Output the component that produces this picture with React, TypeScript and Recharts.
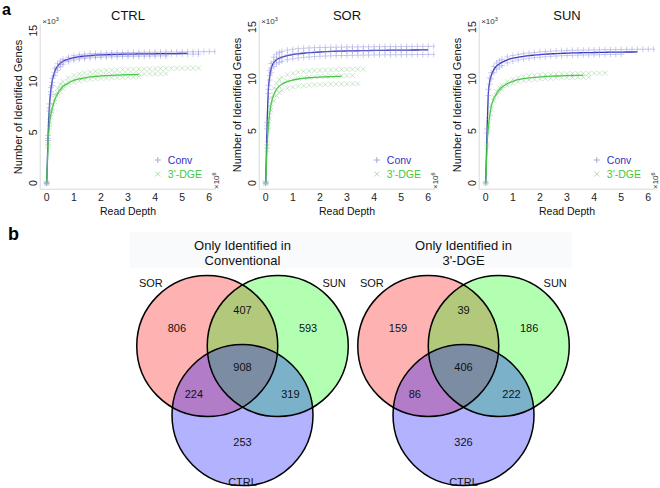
import React from "react";
import { ComposedChart, Line, Scatter, ScatterChart, XAxis, YAxis } from "recharts";

const FONT = "'Liberation Sans', Arial, Helvetica, sans-serif";

// ---------- panel a: rarefaction curves (genes x10^3 vs read depth x10^6)
const DEPTH = [0, 0.05, 0.1, 0.15, 0.2, 0.3, 0.4, 0.5, 0.6, 0.8, 1.0, 1.2, 1.4, 1.6, 1.8, 2.0, 2.2, 2.4, 2.6, 2.8, 3.0, 3.2, 3.4, 3.6, 3.8, 4.0, 4.2, 4.4, 4.6, 4.8, 5.0, 5.2, 5.4, 5.6, 5.8, 6.0, 6.2];
const X_TICKS = [0, 1, 2, 3, 4, 5, 6];
const Y_TICKS = [0, 5, 10, 15];
const PANEL_TITLES = ["CTRL", "SOR", "SUN"];
const SERIES_NAMES = ["Conv", "3'-DGE"];

// CTRL
const CTRL_CONV_LINE = [0, 4.5, 7.5, 9.1, 10.0, 11.0, 11.5, 11.8, 12.0, 12.2, 12.35, 12.45, 12.5, 12.55, 12.6, 12.62, 12.64, 12.66, 12.67, 12.68, 12.7, 12.7, 12.71, 12.72, 12.72, 12.73, 12.74, 12.74, 12.75, 12.75, 12.76, 12.76];
const CTRL_CONV_R1 = [0, 4.7, 7.8, 9.4, 10.3, 11.3, 11.75, 12.0, 12.2, 12.4, 12.55, 12.64, 12.69, 12.73, 12.76, 12.78, 12.8, 12.82, 12.83, 12.84, 12.85, 12.86, 12.87, 12.88, 12.88, 12.89, 12.9, 12.9, 12.91, 12.91, 12.92, 12.92, 12.93, 12.93, 12.94, 12.94, 12.95];
const CTRL_CONV_R2 = [0, 4.4, 7.4, 9.0, 9.9, 10.9, 11.4, 11.7, 11.9, 12.1, 12.25, 12.35, 12.42, 12.47, 12.51, 12.54, 12.56, 12.58, 12.6, 12.61, 12.62, 12.63, 12.64, 12.65, 12.66, 12.66, 12.67, 12.67, 12.68, 12.68, 12.69, 12.69, 12.7, 12.7];
const CTRL_CONV_R3 = [0, 4.2, 7.1, 8.7, 9.6, 10.6, 11.1, 11.45, 11.7, 11.95, 12.1, 12.2, 12.27, 12.32, 12.36, 12.39, 12.41, 12.43, 12.45, 12.46, 12.47, 12.48, 12.49, 12.5, 12.5, 12.51, 12.52, 12.52];
const CTRL_DGE_LINE = [0, 3.8, 5.8, 6.7, 7.3, 8.2, 8.8, 9.2, 9.5, 9.85, 10.1, 10.25, 10.35, 10.45, 10.5, 10.55, 10.58, 10.61, 10.63, 10.65, 10.67, 10.68, 10.7];
const CTRL_DGE_R1 = [0, 4.0, 6.1, 7.1, 7.8, 8.7, 9.3, 9.7, 10.0, 10.35, 10.6, 10.75, 10.85, 10.93, 11.0, 11.05, 11.09, 11.12, 11.15, 11.17, 11.19, 11.21, 11.23, 11.24, 11.25, 11.26, 11.27, 11.28, 11.29, 11.3, 11.3, 11.31, 11.31, 11.32];
const CTRL_DGE_R2 = [0, 3.8, 5.8, 6.8, 7.4, 8.3, 8.9, 9.3, 9.6, 9.95, 10.2, 10.35, 10.45, 10.52, 10.57, 10.61, 10.64, 10.66, 10.68, 10.7, 10.71, 10.72, 10.73, 10.74, 10.75, 10.76, 10.76, 10.77];
const CTRL_DGE_R3 = [0, 3.6, 5.5, 6.5, 7.1, 8.0, 8.6, 9.0, 9.3, 9.65, 9.9, 10.05, 10.15, 10.22, 10.27, 10.31, 10.34, 10.37, 10.39, 10.41, 10.43, 10.44, 10.45];

// SOR
const SOR_CONV_LINE = [0, 5.5, 9.0, 10.3, 11.0, 11.6, 11.85, 12.0, 12.1, 12.25, 12.35, 12.42, 12.48, 12.53, 12.57, 12.6, 12.63, 12.65, 12.67, 12.69, 12.7, 12.71, 12.72, 12.73, 12.74, 12.75, 12.76, 12.76, 12.77, 12.77, 12.78, 12.78, 12.79, 12.79, 12.8, 12.8];
const SOR_CONV_R1 = [0, 5.8, 9.4, 10.8, 11.5, 12.1, 12.4, 12.55, 12.65, 12.78, 12.86, 12.92, 12.96, 12.99, 13.01, 13.03, 13.04, 13.05, 13.06, 13.07, 13.08, 13.09, 13.09, 13.1, 13.1, 13.11, 13.11, 13.12, 13.12, 13.12, 13.13, 13.13, 13.13, 13.14, 13.14, 13.14, 13.15];
const SOR_CONV_R2 = [0, 5.2, 8.6, 9.9, 10.6, 11.2, 11.45, 11.6, 11.7, 11.85, 11.95, 12.02, 12.08, 12.12, 12.16, 12.19, 12.21, 12.23, 12.25, 12.26, 12.27, 12.28, 12.29, 12.3, 12.31, 12.32, 12.32, 12.33, 12.33, 12.34, 12.34, 12.35, 12.35, 12.36, 12.36, 12.37, 12.37];
const SOR_CONV_R3 = [0, 5.5, 9.0, 10.35, 11.05, 11.65, 11.9, 12.05, 12.15, 12.3, 12.4, 12.47, 12.52, 12.56, 12.6, 12.63, 12.65, 12.67, 12.69, 12.7, 12.71, 12.72, 12.73, 12.74, 12.75, 12.75, 12.76, 12.76, 12.77, 12.77, 12.78, 12.78];
const SOR_DGE_LINE = [0, 3.5, 5.5, 6.8, 7.6, 8.5, 9.0, 9.3, 9.5, 9.75, 9.9, 10.0, 10.07, 10.12, 10.16, 10.19, 10.21, 10.23, 10.25, 10.26];
const SOR_DGE_R1 = [0, 3.8, 6.0, 7.4, 8.2, 9.1, 9.6, 9.95, 10.15, 10.4, 10.55, 10.65, 10.72, 10.77, 10.81, 10.84, 10.86, 10.88, 10.9, 10.91, 10.92, 10.93, 10.94, 10.95];
const SOR_DGE_R2 = [0, 3.2, 5.0, 6.2, 7.0, 7.9, 8.4, 8.7, 8.9, 9.1, 9.22, 9.3, 9.36, 9.4, 9.43, 9.46, 9.48, 9.5, 9.51, 9.52, 9.53, 9.54, 9.55];
const SOR_DGE_R3 = [0, 3.5, 5.5, 6.8, 7.6, 8.5, 9.0, 9.3, 9.55, 9.8, 9.95, 10.05, 10.12, 10.17, 10.21, 10.24, 10.26, 10.28, 10.3, 10.31, 10.32, 10.33];

// SUN
const SUN_CONV_LINE = [0, 5.0, 8.7, 9.8, 10.3, 10.9, 11.25, 11.45, 11.6, 11.85, 12.0, 12.1, 12.18, 12.25, 12.3, 12.35, 12.39, 12.42, 12.45, 12.47, 12.49, 12.51, 12.52, 12.53, 12.54, 12.55, 12.56, 12.57, 12.58, 12.58, 12.59, 12.6, 12.6, 12.61];
const SUN_CONV_R1 = [0, 5.2, 9.0, 10.1, 10.6, 11.2, 11.55, 11.75, 11.9, 12.12, 12.26, 12.36, 12.44, 12.5, 12.55, 12.6, 12.64, 12.67, 12.7, 12.72, 12.74, 12.76, 12.77, 12.78, 12.79, 12.8, 12.81, 12.82, 12.83, 12.83, 12.84, 12.85, 12.85, 12.86, 12.86, 12.87, 12.87];
const SUN_CONV_R2 = [0, 4.8, 8.4, 9.5, 10.0, 10.6, 10.95, 11.15, 11.3, 11.55, 11.72, 11.83, 11.92, 11.99, 12.05, 12.1, 12.14, 12.18, 12.21, 12.24, 12.26, 12.28, 12.3, 12.31, 12.32, 12.33, 12.34, 12.35, 12.36, 12.37, 12.38];
const SUN_DGE_LINE = [0, 3.6, 5.4, 6.5, 7.3, 8.1, 8.6, 8.95, 9.2, 9.55, 9.78, 9.93, 10.03, 10.1, 10.16, 10.2, 10.24, 10.27, 10.29, 10.31, 10.33, 10.34, 10.35, 10.36];
const SUN_DGE_R1 = [0, 3.7, 5.6, 6.7, 7.5, 8.3, 8.8, 9.15, 9.4, 9.75, 9.98, 10.13, 10.23, 10.3, 10.36, 10.4, 10.43, 10.46, 10.48, 10.5, 10.51, 10.52, 10.53, 10.54, 10.55, 10.56, 10.56, 10.57];
const SUN_DGE_R2 = [0, 3.5, 5.2, 6.3, 7.1, 7.9, 8.4, 8.75, 9.0, 9.35, 9.58, 9.73, 9.83, 9.9, 9.96, 10.0, 10.04, 10.07, 10.1, 10.12, 10.14, 10.15, 10.16, 10.17, 10.18];

// ---------- panel b: Venn counts (SOR, SUN, CTRL, SOR&SUN, SOR&CTRL, SUN&CTRL, all)
const VENN_SETS = ["SOR", "SUN", "CTRL"];
const CONV_ONLY_COUNTS = [806, 593, 253, 407, 224, 319, 908];
const DGE_ONLY_COUNTS = [159, 186, 326, 39, 86, 222, 406];
const VENN_TITLES = [["Only Identified in", "Conventional"], ["Only Identified in", "3'-DGE"]];

const BLUE = "#3232c4";
const GREEN = "#3fc83f";

const toPoints = (ys: number[]) => ys.map((y, i) => ({ x: DEPTH[i], y }));

const PlusMark = (p: any) => (
  <path d={`M${p.cx - 3},${p.cy}h6M${p.cx},${p.cy - 3}v6`} stroke="#8a8ad8" strokeOpacity={0.55} strokeWidth={0.8} fill="none" />
);
const CrossMark = (p: any) => (
  <path d={`M${p.cx - 2.4},${p.cy - 2.4}l4.8,4.8M${p.cx - 2.4},${p.cy + 2.4}l4.8,-4.8`} stroke="#84c884" strokeOpacity={0.55} strokeWidth={0.8} fill="none" />
);

const XTick = ({ x, y, payload }: any) => (
  <text x={x} y={y + 8} textAnchor="middle" dominantBaseline="central" fontSize={10.5} fill="#222" fontFamily={FONT}>
    {payload.value}
  </text>
);
const YTick = ({ x, y, payload }: any) => (
  <text x={x - 7} y={y} transform={`rotate(-90 ${x - 7} ${y})`} textAnchor="middle" dominantBaseline="central" fontSize={10.5} fill="#222" fontFamily={FONT}>
    {payload.value}
  </text>
);

const PW = 222;
const PH = 222;
const P_LEFT = 40.2;
const P_RIGHT = 215.8;
const P_BOTTOM = 189.2;

function Rarefaction({ idx, left, plotTop, convLine, convReps, dgeLine, dgeReps }: any) {
  const cx = (P_LEFT + P_RIGHT) / 2;
  return (
    <div style={{ position: "absolute", left, top: 0, width: PW, height: PH }}>
      <ComposedChart width={PW} height={PH} margin={{ top: plotTop, right: PW - P_RIGHT, left: 0, bottom: 0 }}>
        <XAxis type="number" dataKey="x" domain={[-0.24, 6.24]} ticks={X_TICKS} allowDataOverflow
          height={PH - P_BOTTOM} tickLine={false} tickSize={0} tickMargin={0} tick={<XTick />} stroke="#d8d8d8" />
        <YAxis type="number" dataKey="y" domain={[-0.6, 15.6]} ticks={Y_TICKS} allowDataOverflow
          width={P_LEFT} tickLine={false} tickSize={0} tickMargin={0} tick={<YTick />} stroke="#d8d8d8" />
        {convReps.map((r: number[], i: number) => (
          <Scatter key={"c" + i} data={toPoints(r)} shape={PlusMark} isAnimationActive={false} />
        ))}
        {dgeReps.map((r: number[], i: number) => (
          <Scatter key={"d" + i} data={toPoints(r)} shape={CrossMark} isAnimationActive={false} />
        ))}
        <Line data={toPoints(convLine)} dataKey="y" type="monotone" stroke={BLUE} strokeWidth={1.3} dot={false} isAnimationActive={false} />
        <Line data={toPoints(dgeLine)} dataKey="y" type="monotone" stroke={GREEN} strokeWidth={1.3} dot={false} isAnimationActive={false} />
      </ComposedChart>
      <svg width={PW} height={PH} style={{ position: "absolute", left: 0, top: 0, pointerEvents: "none" }} fontFamily={FONT}>
        <text x={cx} y={15} textAnchor="middle" dominantBaseline="central" fontSize={13} fill="#111">{PANEL_TITLES[idx]}</text>
        <text x={P_LEFT + 2} y={24} fontSize={8} fill="#333">×10<tspan dy={-3} fontSize={5.5}>3</tspan></text>
        <text x={18} y={(plotTop + P_BOTTOM) / 2} transform={`rotate(-90 18 ${(plotTop + P_BOTTOM) / 2})`} textAnchor="middle" dominantBaseline="central" fontSize={11} fill="#111">
          Number of Identified Genes
        </text>
        <text x={cx} y={211} textAnchor="middle" dominantBaseline="central" fontSize={10.5} fill="#111">Read Depth</text>
        <text x={0} y={0} transform={`translate(${P_RIGHT + 3.5} 189) rotate(-90)`} fontSize={8} fill="#333">×10<tspan dy={-3} fontSize={5.5}>6</tspan></text>
        <path d={`M${P_RIGHT - 61},160h6M${P_RIGHT - 58},157v6`} stroke="#a0a0dc" strokeWidth={0.9} />
        <text x={P_RIGHT - 48} y={160} dominantBaseline="central" fontSize={10.5} fill={BLUE}>{SERIES_NAMES[0]}</text>
        <path d={`M${P_RIGHT - 60.5},171.5l5,5M${P_RIGHT - 60.5},176.5l5,-5`} stroke="#a6d8a6" strokeWidth={0.9} />
        <text x={P_RIGHT - 48} y={174} dominantBaseline="central" fontSize={10.5} fill={GREEN}>{SERIES_NAMES[1]}</text>
      </svg>
    </div>
  );
}

// ---------- Venn layout (units of circle radius)
const VENN_W = 660;
const VENN_H = 270;
const VENN_TOP = 218;
const UNIT = 70.5;
const VX0 = 242.5;
const VY0 = 128;
const VENN_OFFSETS = [0, 3.135];
const CIRCLE_POS = [[-0.5, 0], [0.5, 0], [0, -0.98]];
const REGION_POS = [[-0.93, 0.255], [0.93, 0.255], [0, -1.36], [0, 0.51], [-0.69, -0.68], [0.68, -0.68], [0, -0.3]];
const SET_LABEL_POS = [[-1.3, 0.894], [1.3, 0.894], [0, -1.93]];
const SET_COLORS = ["#ff0000", "#00ff00", "#0000ff"];

const circleData = VENN_OFFSETS.flatMap((off) =>
  VENN_SETS.map((s, i) => ({ x: off + CIRCLE_POS[i][0], y: CIRCLE_POS[i][1], color: SET_COLORS[i], set: s }))
);
const countData = [CONV_ONLY_COUNTS, DGE_ONLY_COUNTS].flatMap((counts, k) =>
  counts.map((c, j) => ({ x: VENN_OFFSETS[k] + REGION_POS[j][0], y: REGION_POS[j][1], label: String(c) }))
);
const setLabelData = VENN_OFFSETS.flatMap((off) =>
  VENN_SETS.map((s, i) => ({ x: off + SET_LABEL_POS[i][0], y: SET_LABEL_POS[i][1], label: s }))
);

const CircleFill = (p: any) => <circle cx={p.cx} cy={p.cy} r={UNIT} fill={p.payload.color} fillOpacity={0.3} />;
const CircleEdge = (p: any) => <circle cx={p.cx} cy={p.cy} r={UNIT} fill="none" stroke="#000" strokeWidth={1.5} />;
const TextMark = (p: any) => (
  <text x={p.cx} y={p.cy} textAnchor="middle" dominantBaseline="central" fontSize={11} fill="#111" fontFamily={FONT}>
    {p.payload.label}
  </text>
);

function VennPanel() {
  return (
    <div style={{ position: "absolute", left: 0, top: VENN_TOP, width: VENN_W, height: VENN_H }}>
      <ScatterChart width={VENN_W} height={VENN_H} margin={{ top: 0, right: 0, bottom: 0, left: 0 }}>
        <XAxis type="number" dataKey="x" hide height={0} domain={[-VX0 / UNIT, (VENN_W - VX0) / UNIT]} allowDataOverflow />
        <YAxis type="number" dataKey="y" hide width={0} domain={[-(VENN_H - VY0) / UNIT, VY0 / UNIT]} allowDataOverflow />
        <Scatter data={circleData} shape={CircleFill} isAnimationActive={false} />
        <Scatter data={circleData} shape={CircleEdge} isAnimationActive={false} />
        <Scatter data={countData} shape={TextMark} isAnimationActive={false} />
        <Scatter data={setLabelData} shape={TextMark} isAnimationActive={false} />
      </ScatterChart>
    </div>
  );
}

export default function App() {
  const panels = [
    { convLine: CTRL_CONV_LINE, convReps: [CTRL_CONV_R1, CTRL_CONV_R2, CTRL_CONV_R3], dgeLine: CTRL_DGE_LINE, dgeReps: [CTRL_DGE_R1, CTRL_DGE_R2, CTRL_DGE_R3] },
    { convLine: SOR_CONV_LINE, convReps: [SOR_CONV_R1, SOR_CONV_R2, SOR_CONV_R3], dgeLine: SOR_DGE_LINE, dgeReps: [SOR_DGE_R1, SOR_DGE_R2, SOR_DGE_R3] },
    { convLine: SUN_CONV_LINE, convReps: [SUN_CONV_R1, SUN_CONV_R2], dgeLine: SUN_DGE_LINE, dgeReps: [SUN_DGE_R1, SUN_DGE_R2] },
  ];
  const lefts = [0, 219, 439];
  const tops = [24.6, 20.8, 20.8];
  return (
    <div style={{ position: "absolute", left: 0, top: 0, width: 660, height: 488, overflow: "hidden", background: "#fff", fontFamily: FONT }}>
      <svg width={660} height={488} style={{ position: "absolute", left: 0, top: 0 }}>
        <rect x={130} y={232} width={442} height={36} fill="#f8fafc" />
      </svg>
      {panels.map((p, i) => (
        <Rarefaction key={i} idx={i} left={lefts[i]} plotTop={tops[i]} {...p} />
      ))}
      <VennPanel />
      <svg width={660} height={488} style={{ position: "absolute", left: 0, top: 0, pointerEvents: "none" }} fontFamily={FONT}>
        <text x={2} y={15} fontSize={16} fontWeight="bold" fill="#000">a</text>
        <text x={8} y={240} fontSize={18} fontWeight="bold" fill="#000">b</text>
        {VENN_TITLES.map((t, k) => (
          <g key={k}>
            <text x={VX0 + VENN_OFFSETS[k] * UNIT} y={245} textAnchor="middle" dominantBaseline="central" fontSize={13} fill="#111">{t[0]}</text>
            <text x={VX0 + VENN_OFFSETS[k] * UNIT} y={260} textAnchor="middle" dominantBaseline="central" fontSize={13} fill="#111">{t[1]}</text>
          </g>
        ))}
      </svg>
    </div>
  );
}
